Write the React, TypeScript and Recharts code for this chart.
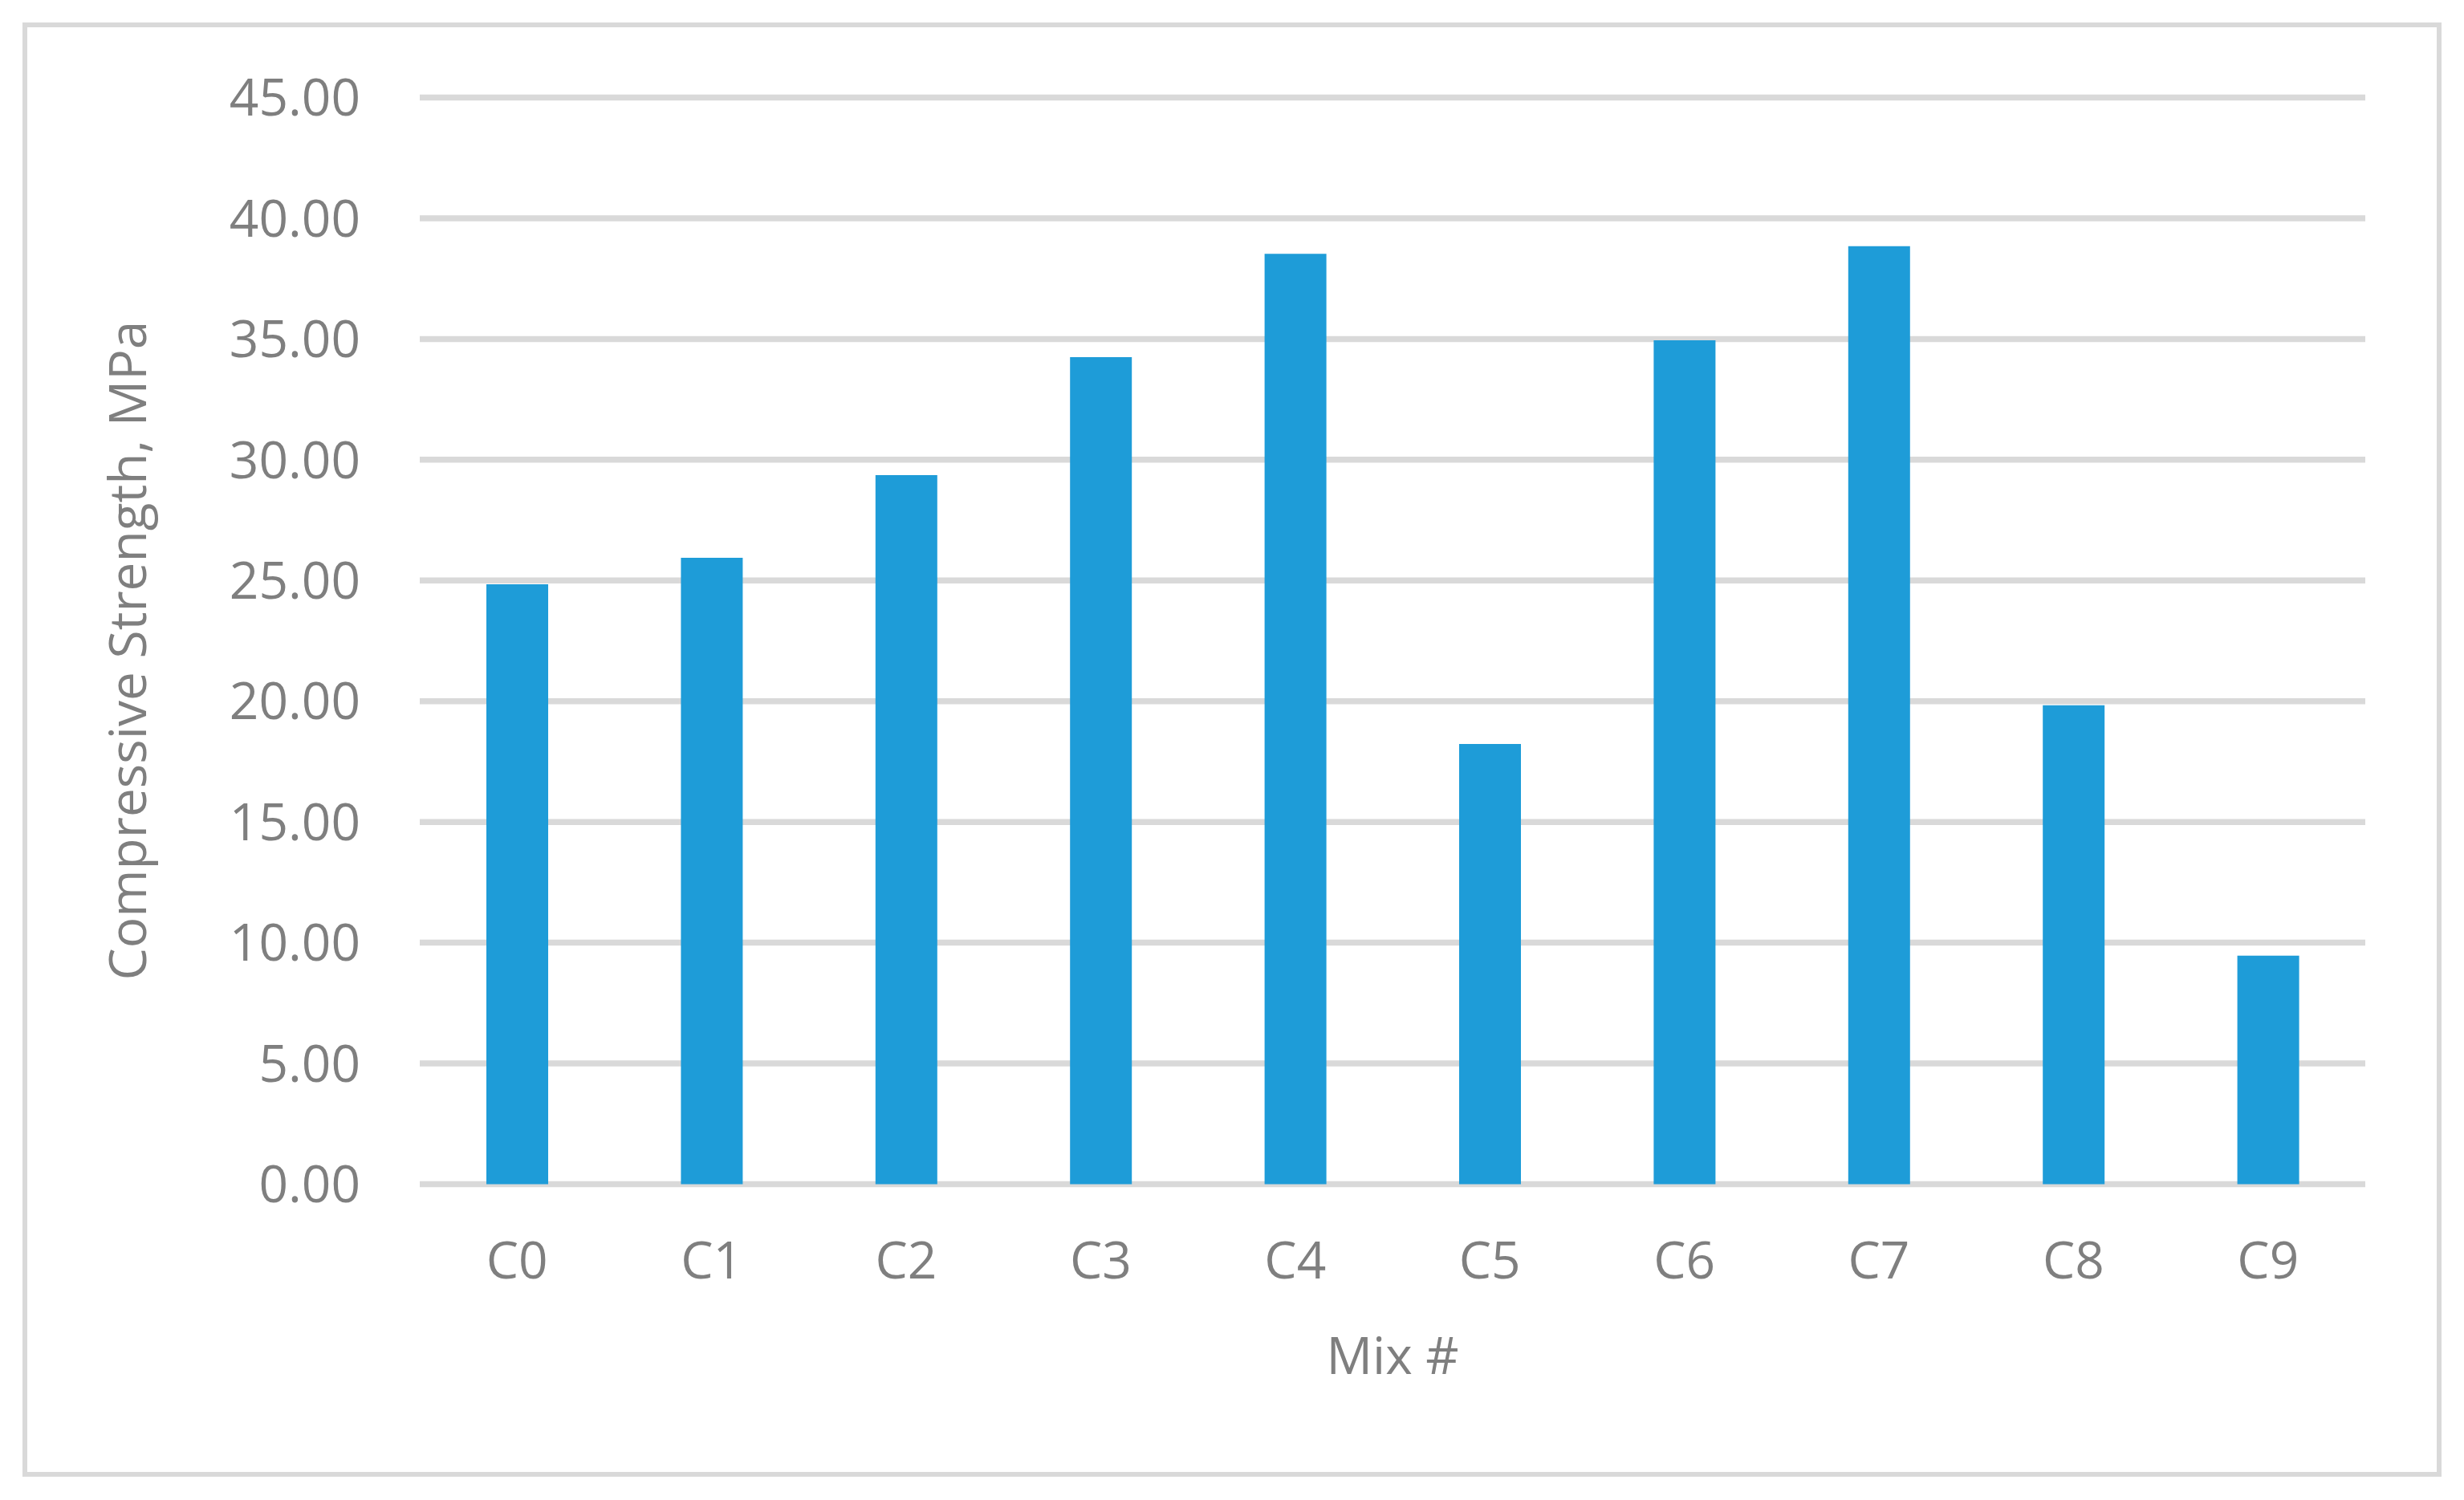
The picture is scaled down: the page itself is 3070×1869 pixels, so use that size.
import React from 'react';
import { BarChart, Bar, XAxis, YAxis, CartesianGrid } from 'recharts';

const mixes = ['C0', 'C1', 'C2', 'C3', 'C4', 'C5', 'C6', 'C7', 'C8', 'C9'];
const strength = [24.84, 25.94, 29.36, 34.25, 38.53, 18.23, 34.95, 38.84, 19.83, 9.46];
const yTicks = [0, 5, 10, 15, 20, 25, 30, 35, 40, 45];

const data = mixes.map((mix, i) => ({ mix, value: strength[i] }));

const FONT = '"Open Sans", "Noto Sans", sans-serif';
const TEXT = '#7f7f7f';
const GRID = '#d9d9d9';

// axis titles placed relative to the axis viewBox
const YTitle = (props: any) => {
  const vb = props.viewBox || { x: 0, y: 0, width: 0, height: 0 };
  const x = vb.x + 157;
  const y = vb.y + vb.height / 2 + 12;
  return (
    <text
      x={x}
      y={y}
      transform={`rotate(-90, ${x}, ${y})`}
      textAnchor="middle"
      dominantBaseline="central"
      fontFamily={FONT}
      fontSize={64}
      fill={TEXT}
    >
      Compressive Strength, MPa
    </text>
  );
};

const XTitle = (props: any) => {
  const vb = props.viewBox || { x: 0, y: 0, width: 0, height: 0 };
  return (
    <text
      x={vb.x + vb.width / 2}
      y={vb.y + 236}
      textAnchor="middle"
      fontFamily={FONT}
      fontSize={64}
      fill={TEXT}
    >
      Mix #
    </text>
  );
};

const App: React.FC = () => {
  return (
    <div style={{ position: 'absolute', left: 0, top: 0, width: 3070, height: 1869, background: '#fff' }}>
      {/* outer chart frame */}
      <div
        style={{
          position: 'absolute',
          left: 28,
          top: 28,
          width: 3014,
          height: 1812,
          border: `6px solid ${GRID}`,
          boxSizing: 'border-box',
        }}
      />
      <div style={{ position: 'absolute', left: 0, top: 0 }}>
        <BarChart
          width={3070}
          height={1869}
          data={data}
          margin={{ top: 121.5, right: 123, bottom: 93.5, left: 0 }}
          barCategoryGap={0}
        >
          <CartesianGrid vertical={false} stroke={GRID} strokeWidth={7.5} />
          <XAxis
            dataKey="mix"
            height={300}
            axisLine={false}
            tickLine={false}
            tickSize={0}
            tickMargin={72}
            tick={{ fontFamily: FONT, fontSize: 64, fill: TEXT }}
            label={<XTitle />}
          />
          <YAxis
            width={523}
            domain={[0, 45]}
            ticks={yTicks}
            axisLine={false}
            tickLine={false}
            tickSize={0}
            tickMargin={74}
            tickFormatter={(v: number) => v.toFixed(2)}
            tick={{ fontFamily: FONT, fontSize: 64, fill: TEXT }}
            label={<YTitle />}
          />
          <Bar dataKey="value" fill="#1e9cd8" barSize={77} isAnimationActive={false} />
        </BarChart>
      </div>
    </div>
  );
};

export default App;
